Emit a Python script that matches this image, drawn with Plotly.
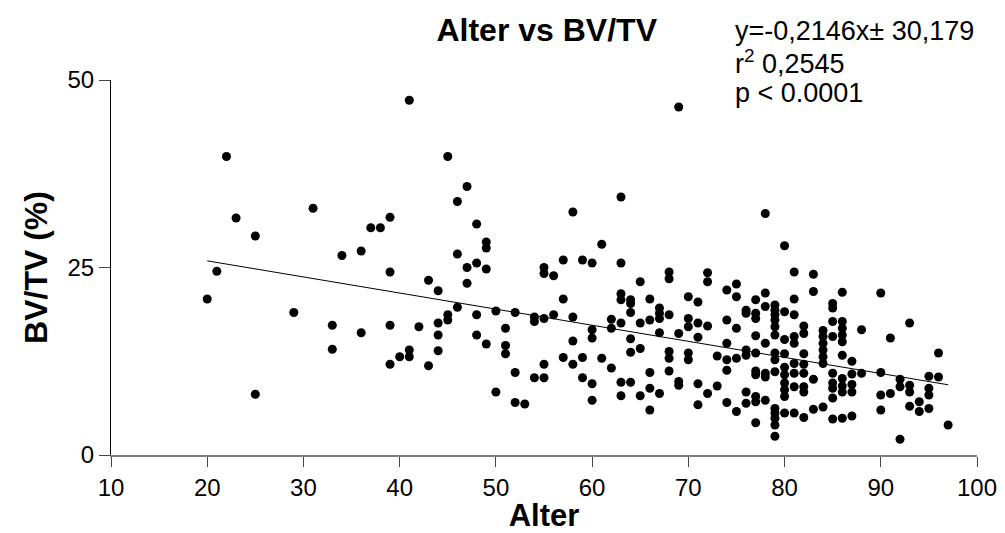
import plotly.graph_objects as go

# Data: age (Alter) -> list of BV/TV (%) values
ages = [20, 21, 22, 23, 25, 29, 31, 33, 34, 36, 37, 38, 39, 40, 41, 42, 43, 44, 45, 46, 47, 48, 49,
        50, 51, 52, 53, 54, 55, 56, 57, 58, 59, 60, 61, 62, 63, 64, 65, 66, 67, 68, 69, 70,
        71, 72, 73, 74, 75, 76, 77, 78, 79, 80, 81, 82, 83, 84, 85, 86, 87, 88, 90, 91, 92,
        93, 94, 95, 96, 97]
bvtv_by_age = [
    [20.8], [24.5], [39.8], [31.6], [29.2, 8.1], [19.0], [32.9], [17.3, 14.1], [26.6],
    [27.2, 16.3], [30.3], [30.3], [31.7, 24.4, 17.3, 12.1], [13.1], [47.3, 14.0, 13.1],
    [17.1], [23.3, 11.9], [21.9, 17.6, 16.0, 13.9], [39.8, 18.7, 18.0], [33.8, 26.8, 19.7],
    [35.8, 25.0, 22.9], [30.8, 25.6, 18.7, 16.0], [28.4, 27.6, 24.8, 14.8],
    [19.2, 8.4], [16.9, 14.6, 13.5], [19.0, 11.0, 7.0], [6.8], [18.4, 17.8, 10.3],
    [25.0, 24.2, 18.2, 12.1, 10.3], [23.9, 18.7], [26.0, 20.8, 13.0], [32.4, 18.4, 15.2, 12.1],
    [26.0, 13.0, 10.3], [25.6, 16.7, 15.6, 9.5, 7.3], [28.1, 12.9], [18.1, 16.9, 11.6],
    [34.4, 25.6, 21.5, 20.7, 17.6, 9.7, 7.9], [20.7, 20.2, 19.0, 15.5, 13.7, 9.7],
    [23.1, 17.6, 14.2, 7.9], [20.8, 18.0, 11.0, 8.9, 6.0], [19.6, 18.9, 18.2, 16.3, 8.2],
    [24.4, 23.5, 18.7, 13.8, 12.9, 11.2], [46.4, 16.2, 9.8, 9.3], [21.1, 18.2, 17.1, 13.6, 12.7],
    [20.4, 17.6, 15.7, 9.5, 6.7], [24.3, 23.1, 17.2, 8.2], [13.2, 9.2],
    [22.0, 18.0, 14.9, 12.7, 11.3, 7.0], [22.8, 21.1, 16.9, 12.9, 5.8],
    [19.3, 18.9, 14.0, 13.3, 8.4, 6.9], [20.7, 18.9, 18.2, 15.9, 13.6, 11.2, 10.7, 7.8, 7.1, 4.3],
    [32.2, 21.6, 19.8, 14.9, 10.9, 10.4, 7.3],
    [20.0, 19.3, 18.7, 18.0, 17.1, 16.0, 13.6, 12.7, 11.1, 6.2, 5.6, 4.9, 4.0, 2.5],
    [27.9, 19.1, 15.4, 13.5, 11.7, 10.7, 9.6, 8.7, 7.8, 5.6],
    [24.4, 20.8, 18.7, 15.8, 14.9, 12.2, 10.9, 9.1, 5.6],
    [17.2, 16.2, 13.5, 12.1, 10.9, 9.1, 8.4, 5.0], [24.1, 21.8, 10.1, 6.1],
    [16.6, 15.8, 14.9, 14.0, 13.1, 12.2, 6.4], [20.2, 19.6, 17.8, 15.8, 10.9, 9.6, 8.9, 7.6, 4.8],
    [21.7, 17.8, 16.9, 16.0, 15.1, 13.3, 10.2, 9.2, 8.4, 4.9], [12.5, 10.8, 9.4, 8.4, 5.2],
    [16.7, 10.9], [21.6, 11.0, 8.0, 6.0], [15.6, 8.2], [10.1, 9.1, 2.1], [17.6, 9.3, 8.4, 6.5],
    [7.1, 5.8], [10.5, 8.9, 8.0, 6.2], [13.6, 10.4], [4.0],
]

# Regression line parameters (from the chart's annotation)
slope = -0.2146
intercept = 30.179
line_x = [20, 97]

x_ticks = [10, 20, 30, 40, 50, 60, 70, 80, 90, 100]
y_ticks = [0, 25, 50]

xs, ys = [], []
for a, vals in zip(ages, bvtv_by_age):
    for v in vals:
        xs.append(a)
        ys.append(v)

FONT = "Liberation Sans, Arial, sans-serif"

fig = go.Figure()
fig.add_trace(go.Scatter(
    x=xs, y=ys, mode="markers",
    marker=dict(color="black", size=9, line=dict(width=0)),
    showlegend=False, hoverinfo="x+y",
))
fig.add_trace(go.Scatter(
    x=line_x, y=[slope * v + intercept for v in line_x], mode="lines",
    line=dict(color="black", width=1), showlegend=False, hoverinfo="skip",
))

fig.update_layout(
    width=1005, height=533,
    margin=dict(l=111, r=28, t=80, b=78),
    paper_bgcolor="white", plot_bgcolor="white",
    font=dict(family=FONT, color="black", size=24),
    title=dict(text="<b>Alter vs BV/TV</b>", x=0.544, xanchor="center",
               y=0.944, yanchor="middle", font=dict(size=32, family=FONT)),
)
fig.update_xaxes(
    range=[10, 100], tickvals=x_ticks, ticks="outside", ticklen=10, tickwidth=1,
    tickcolor="#444", showline=True, linecolor="#808080", linewidth=2,
    showgrid=False, zeroline=False, tickfont=dict(size=24), automargin=False,
    title=dict(text="<b>Alter</b>", font=dict(size=31), standoff=4),
)
fig.update_yaxes(
    range=[0, 50], tickvals=y_ticks, ticks="outside", ticklen=11, tickwidth=1,
    tickcolor="#444", showline=True, linecolor="black", linewidth=1,
    showgrid=False, zeroline=False, tickfont=dict(size=24), automargin=False,
    title=dict(text="<b>BV/TV (%)</b>", font=dict(size=32), standoff=10),
)

ann_lines = ["y=-0,2146x\u00b1 30,179", "r<sup>2</sup> 0,2545", "p < 0.0001"]
ann_y = [31, 62, 93]
for t, yy in zip(ann_lines, ann_y):
    fig.add_annotation(text=t, xref="paper", yref="paper", x=(733 - 111) / 866,
                       y=(455 - yy) / 375, xanchor="left", yanchor="middle",
                       showarrow=False, font=dict(size=27, family=FONT))

fig.write_html("out.html")
